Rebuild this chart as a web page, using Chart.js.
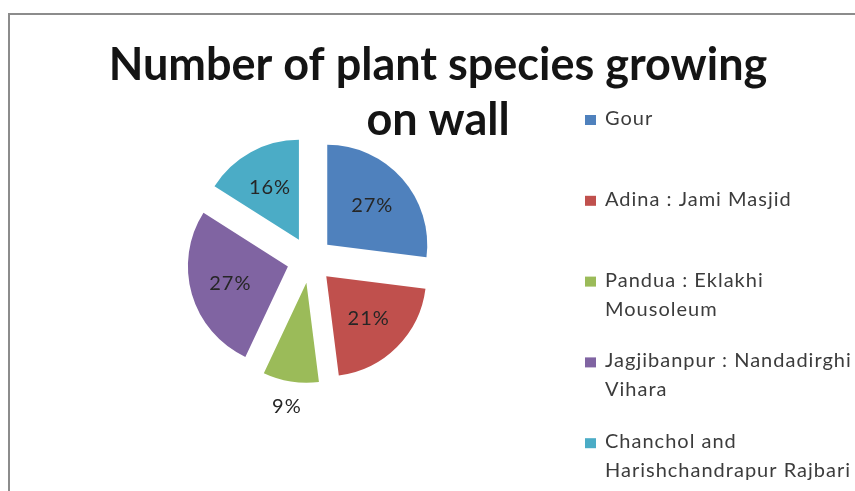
<!DOCTYPE html>
<html>
<head>
<meta charset="utf-8">
<script src="https://cdn.jsdelivr.net/npm/chart.js@4.4.1/dist/chart.umd.min.js"></script>
<style>
  html, body { margin: 0; padding: 0; background: #fff; }
  #wrap { position: relative; width: 855px; height: 491px; }
</style>
</head>
<body>
<div id="wrap"><canvas id="pie" width="855" height="491"></canvas></div>
<script>
// sites, one entry per slice (multi-line names are split into lines)
const sites = [
  ["Gour"],
  ["Adina : Jami Masjid"],
  ["Pandua : Eklakhi", "Mousoleum"],
  ["Jagjibanpur : Nandadirghi", "Vihara"],
  ["Chanchol and", "Harishchandrapur Rajbari"],
];
// share of plant species per site, in percent
const shares = [27, 21, 9, 27, 16];
const sliceColors = ["#4F81BD", "#C0504D", "#9BBB59", "#8064A2", "#4BACC6"];
const titleLines = ["Number of plant species growing", "on wall"];

const FONT = "Lato, 'Open Sans', sans-serif";
const EXPLODE = 23; // how far every slice is pulled out from the centre

// frame and title behind everything
const frame = {
  id: "frame",
  beforeDraw(chart) {
    const ctx = chart.ctx;
    ctx.save();
    ctx.strokeStyle = "#8c8c8c";
    ctx.lineWidth = 2;
    ctx.beginPath();
    ctx.moveTo(9, chart.height);
    ctx.lineTo(9, 14);
    ctx.lineTo(chart.width, 14);
    ctx.stroke();

    ctx.fillStyle = "#141414";
    ctx.font = "bold 45px " + FONT;
    ctx.textAlign = "center";
    ctx.textBaseline = "alphabetic";
    ctx.fillText(titleLines[0], 438, 80);
    ctx.fillText(titleLines[1], 438, 135);
    ctx.restore();
  },
};

// exploded slices: draw each arc shifted along its bisector
// (the built-in offset option also grows narrow slices, so do it here)
const explode = {
  id: "explode",
  beforeDatasetsDraw(chart) {
    const ctx = chart.ctx;
    chart.getDatasetMeta(0).data.forEach((arc) => {
      const mid = (arc.startAngle + arc.endAngle) / 2;
      ctx.save();
      ctx.translate(Math.cos(mid) * EXPLODE, Math.sin(mid) * EXPLODE);
      arc.draw(ctx);
      ctx.restore();
    });
    return false;
  },
  afterDraw(chart) {
    const ctx = chart.ctx;
    const arcs = chart.getDatasetMeta(0).data;
    const total = shares.reduce((a, b) => a + b, 0);
    ctx.save();
    ctx.font = "20px " + FONT;
    ctx.letterSpacing = "1px";
    ctx.fillStyle = "#262626";
    ctx.textAlign = "center";
    ctx.textBaseline = "middle";
    arcs.forEach((arc, i) => {
      const p = arc.getProps(["x", "y", "startAngle", "endAngle", "outerRadius"], true);
      const mid = (p.startAngle + p.endAngle) / 2;
      const k = shares[i] < 10 ? 1.25 : 0.6;
      const d = EXPLODE + p.outerRadius * k;
      const pct = Math.round(shares[i] / total * 100);
      ctx.fillText(pct + "%", p.x + Math.cos(mid) * d, p.y + Math.sin(mid) * d);
    });

    // legend
    ctx.textAlign = "left";
    ctx.textBaseline = "alphabetic";
    ctx.font = "20px " + FONT;
    ctx.letterSpacing = "1px";
    sites.forEach((lines, i) => {
      const y0 = 125 + i * 80.8;
      ctx.fillStyle = sliceColors[i];
      ctx.fillRect(585, y0 - 10, 11, 10);
      ctx.fillStyle = "#3c3c3c";
      lines.forEach((line, j) => ctx.fillText(line, 605, y0 + j * 29));
    });
    ctx.restore();
  },
};

new Chart(document.getElementById("pie"), {
  type: "pie",
  data: {
    labels: sites.map((s) => s.join(" ")),
    datasets: [{
      data: shares,
      backgroundColor: sliceColors,
      borderWidth: 0,
    }],
  },
  options: {
    responsive: false,
    animation: false,
    layout: { padding: { left: 210, right: 445, top: 160, bottom: 131 } },
    plugins: {
      legend: { display: false },
      title: { display: false },
      tooltip: { enabled: false },
    },
  },
  plugins: [frame, explode],
});
</script>
</body>
</html>
